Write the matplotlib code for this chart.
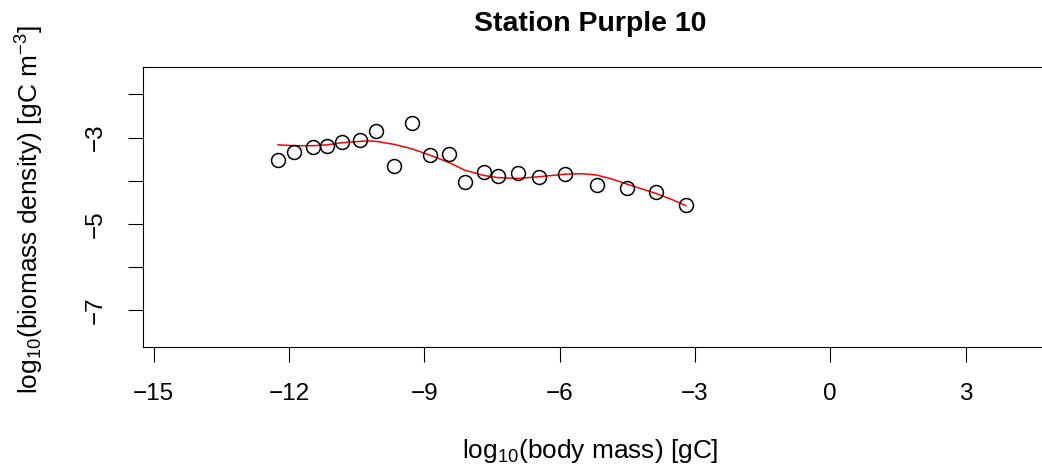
import numpy as np
import matplotlib
matplotlib.use("Agg")
import matplotlib.pyplot as plt

plt.rcParams["font.family"] = ["Liberation Sans", "DejaVu Sans"]
plt.rcParams["mathtext.fontset"] = "custom"
plt.rcParams["mathtext.rm"] = "Liberation Sans"
plt.rcParams["mathtext.it"] = "Liberation Sans:italic"
plt.rcParams["mathtext.bf"] = "Liberation Sans:bold"

# log10 body mass [gC] and log10 biomass density [gC m^-3]
log_mass = [-12.24, -11.88, -11.46, -11.15, -10.82, -10.42, -10.06, -9.66,
            -9.28, -8.87, -8.45, -8.10, -7.68, -7.37, -6.92, -6.46, -5.87,
            -5.18, -4.51, -3.86, -3.20]
log_density = [-3.52, -3.33, -3.21, -3.20, -3.10, -3.06, -2.86, -3.67,
               -2.66, -3.41, -3.39, -4.04, -3.79, -3.89, -3.83, -3.91, -3.84,
               -4.10, -4.18, -4.27, -4.57]

# fitted trend of the size spectrum
trend_mass = [-12.24, -11.88, -11.46, -11.15, -10.82, -10.42, -10.25, -10.06,
              -9.66, -9.28, -8.87, -8.45, -8.10, -7.68, -7.37, -6.92, -6.46,
              -5.87, -5.50, -5.18, -4.85, -4.51, -4.18, -3.86, -3.53, -3.20]
trend_density = [-3.17, -3.19, -3.19, -3.17, -3.12, -3.09, -3.08, -3.09,
                 -3.16, -3.26, -3.41, -3.58, -3.76, -3.88, -3.93, -3.95, -3.91,
                 -3.85, -3.84, -3.87, -3.96, -4.08, -4.19, -4.30, -4.43, -4.58]

x_ticks = [-15, -12, -9, -6, -3, 0, 3]
y_ticks = [-7, -6, -5, -4, -3, -2]
y_tick_labels = ["\u22127", "", "\u22125", "", "\u22123", ""]

W, H = 1042, 473
fig = plt.figure(figsize=(W / 100, H / 100), dpi=100)
left, right, top, bottom = 142.7, 1049.0, 67.0, 346.7
ax = fig.add_axes([left / W, 1 - bottom / H, (right - left) / W, (bottom - top) / H])

ax.plot(trend_mass, trend_density, color="red", lw=1.1, zorder=2,
        solid_joinstyle="round")
ax.plot(log_mass, log_density, linestyle="none", marker="o", ms=10,
        mfc="none", mec="black", mew=1.1, zorder=3)

ax.set_xlim(-15.24, 4.85)
ax.set_ylim(-7.854, -1.364)
ax.set_xticks(x_ticks)
ax.set_xticklabels([str(v).replace("-", "\u2212") for v in x_ticks])
ax.set_yticks(y_ticks)
ax.set_yticklabels(y_tick_labels, rotation=90, va="center")
ax.tick_params(axis="both", direction="out", length=11, width=0.8,
               labelsize=17.5, color="black")
ax.tick_params(axis="x", pad=15)
ax.tick_params(axis="y", pad=15)
for s in ax.spines.values():
    s.set_linewidth(0.8)

cx = 590 / W
fig.text(cx, 1 - 31 / H, "Station Purple 10",
         ha="center", va="baseline", fontsize=20.5, fontweight="bold")
fig.text(cx, 1 - 458 / H,
         r"$\mathregular{log_{10}}$(body mass) [gC]",
         ha="center", va="baseline", fontsize=18.9)
fig.text(30 / W, 1 - 210 / H,
         r"$\mathregular{log_{10}}$(biomass density) [gC m$\mathregular{^{-3}}$]",
         ha="center", va="center", rotation=90, fontsize=18.9)

fig.savefig("out.png", dpi=100)
